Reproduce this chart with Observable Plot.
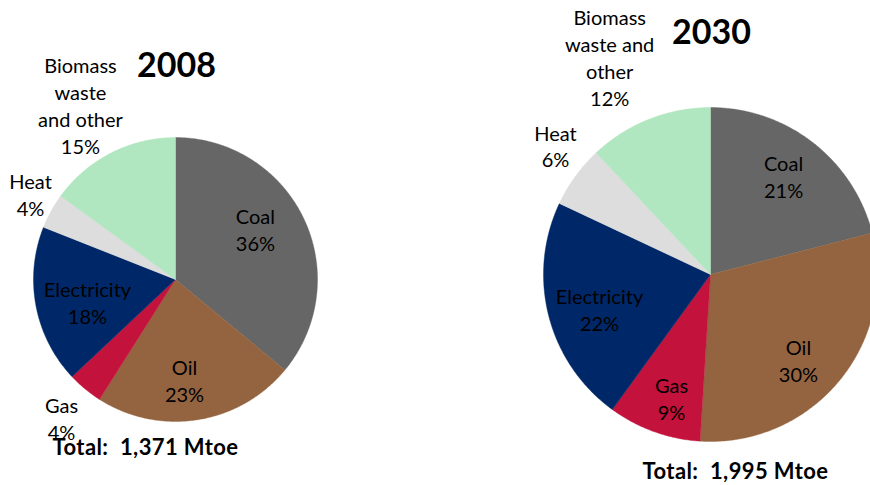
<!DOCTYPE html>
<html>
<head>
<meta charset="utf-8">
<script src="https://cdn.jsdelivr.net/npm/d3@7"></script>
<script src="https://cdn.jsdelivr.net/npm/@observablehq/plot@0.6"></script>
<style>
  html, body { margin: 0; padding: 0; background: #fff; }
  #chart svg { display: block; }
</style>
</head>
<body>
<div id="chart"></div>
<script>
// ---- data ----
const years = ["2008", "2030"];
const categories = ["Coal", "Oil", "Gas", "Electricity", "Heat", "Biomass waste and other"];
const share2008 = [36, 23, 4, 18, 4, 15];
const share2030 = [21, 30, 9, 22, 6, 12];
const labels2008 = ["Coal", "Oil", "Gas", "Electricity", "Heat", "Biomass\nwaste\nand other"];
const labels2030 = ["Coal", "Oil", "Gas", "Electricity", "Heat", "Biomass\nwaste and\nother"];
const totals = [1371, 1995];
const totalUnit = "Mtoe";
const colors = ["#666666", "#946440", "#c3123c", "#002868", "#dddddd", "#b0e6c0"];

// ---- layout (pixel frame) ----
const layout = [
  { cx: 175, cy: 279, r: 142, title: [176, 66], total: [145, 447],
    // [radius factor, angle nudge in degrees] per label
    lab: [[0.668, -7.4], [0.713, 3.9], [1.265, -0.2], [0.639, -3.2], [1.187, 1.9], [1.403, -1.5]] },
  { cx: 710, cy: 274, r: 167, title: [711, 33], total: [735, 471],
    lab: [[0.737, -1.4], [0.736, 4.7], [0.772, -2.2], [0.695, -2.6], [1.208, 3.8], [1.434, -3.3]] }
];

const series = [share2008, share2030];
const labelSets = [labels2008, labels2030];

const slicePts = [];
const labelRows = [];
const titleRows = [];
const totalRows = [];
const toRad = Math.PI / 180;

years.forEach((yr, yi) => {
  const L = layout[yi];
  const arcs = d3.pie().sort(null).value(d => d)(series[yi]);
  arcs.forEach((a, i) => {
    const key = yr + "-" + i;
    const cat = categories[i];
    slicePts.push({ key, category: cat, x: L.cx, y: L.cy });
    const steps = Math.max(2, Math.ceil((a.endAngle - a.startAngle) / (0.5 * toRad)));
    for (let s = 0; s <= steps; s++) {
      const t = a.startAngle + (a.endAngle - a.startAngle) * s / steps;
      slicePts.push({ key, category: cat, x: L.cx + L.r * Math.sin(t), y: L.cy - L.r * Math.cos(t) });
    }
    slicePts.push({ key, category: cat, x: L.cx, y: L.cy });
    const mid = (a.startAngle + a.endAngle) / 2 + L.lab[i][1] * toRad;
    const k = L.lab[i][0] * L.r;
    labelRows.push({
      x: L.cx + k * Math.sin(mid),
      y: L.cy - k * Math.cos(mid),
      text: labelSets[yi][i] + "\n" + series[yi][i] + "%"
    });
  });
  titleRows.push({ x: L.title[0], y: L.title[1], text: yr });
  totalRows.push({ x: L.total[0], y: L.total[1], text: "Total:  " + d3.format(",")(totals[yi]) + " " + totalUnit });
});

const chart = Plot.plot({
  width: 870,
  height: 485,
  margin: 0,
  x: { domain: [0, 870], range: [0, 870], axis: null },
  y: { domain: [0, 485], range: [0, 485], axis: null },
  color: { domain: categories, range: colors },
  style: { fontFamily: "Lato, 'Open Sans', sans-serif", background: "#fff" },
  marks: [
    Plot.line(slicePts, { x: "x", y: "y", z: "key", fill: "category", stroke: "category", strokeWidth: 0.4, curve: "linear" }),
    Plot.text(labelRows, { x: "x", y: "y", text: "text", fontSize: 20, lineHeight: 1.35, fill: "#000" }),
    Plot.text(titleRows, { x: "x", y: "y", text: "text", fontSize: 34, fontWeight: "bold", fill: "#000" }),
    Plot.text(totalRows, { x: "x", y: "y", text: "text", fontSize: 22, fontWeight: "bold", fill: "#000" })
  ]
});
d3.select(chart).selectAll("g[aria-label='text']").filter((d, i, n) => i === n.length - 1)
  .attr("letter-spacing", "0.4px");
document.getElementById("chart").appendChild(chart);
</script>
</body>
</html>
